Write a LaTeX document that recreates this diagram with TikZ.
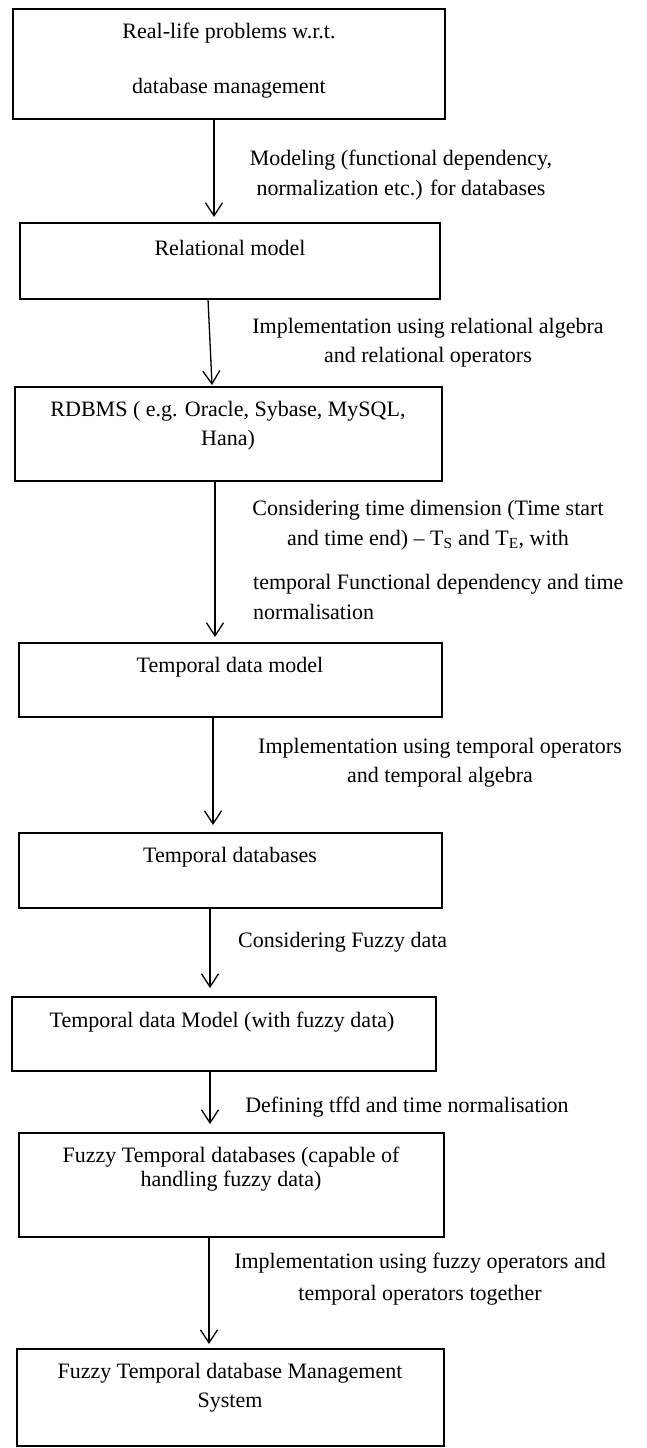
\documentclass[tikz,border=0pt]{standalone}
\usepackage{fontspec}
\setmainfont{Liberation Serif}
\usetikzlibrary{arrows.meta,calc}
\begin{document}
\begin{tikzpicture}[x=1pt,y=-1pt,
  box/.style={draw, line width=1.6pt, inner sep=0pt, outer sep=0pt, anchor=north west},
  txt/.style={inner sep=0pt, align=center, font=\fontsize{22}{29}\selectfont},
  arr/.style={line width=1.3pt, -{Straight Barb[length=13pt,width=17pt,line width=1.3pt]}}]
\useasboundingbox (0,0) rectangle (646,1448);
% boxes
\node[box, minimum width=432pt, minimum height=110pt] (b1) at (13,9) {};
\node[box, minimum width=420pt, minimum height=76pt]  (b2) at (20,223) {};
\node[box, minimum width=427pt, minimum height=94pt]  (b3) at (15,387) {};
\node[box, minimum width=423pt, minimum height=74pt]  (b4) at (19,643) {};
\node[box, minimum width=423pt, minimum height=75pt]  (b5) at (19,833) {};
\node[box, minimum width=424pt, minimum height=74pt]  (b6) at (12,997) {};
\node[box, minimum width=425pt, minimum height=104pt] (b7) at (19,1133) {};
\node[box, minimum width=427pt, minimum height=97pt]  (b8) at (17,1349) {};
% box texts
\node[txt] (t1) at (229,60.5) {Real-life problems w.r.t.\\[26pt]database management};
\node[txt] (t2) at (230,248) {Relational model};
\node[txt] (t3) at (228,425.5) {RDBMS ( e.g. Oracle, Sybase, MySQL,\\Hana)};
\node[txt] (t4) at (230,667) {Temporal data model};
\node[txt] (t5) at (230,857) {Temporal databases};
\node[txt] (t6) at (222,1022) {Temporal data Model (with fuzzy data)};
\node[txt] (t7) at (231,1169) {Fuzzy Temporal databases (capable of\\[-5pt]handling fuzzy data)};
\node[txt] (t8) at (230,1387.5) {Fuzzy Temporal database Management\\System};
% connectors
\draw[arr] ([xshift=-15pt]b1.south) -- ([xshift=-16pt,yshift=6pt]b2.north);
\draw[arr] ([xshift=-22pt]b2.south) -- ([xshift=-16.5pt,yshift=2pt]b3.north);
\draw[arr] ([xshift=-13.5pt]b3.south) -- ([xshift=-15.5pt,yshift=6pt]b4.north);
\draw[arr] ([xshift=-17.5pt]b4.south) -- ([xshift=-17.5pt,yshift=8pt]b5.north);
\draw[arr] ([xshift=-20.5pt]b5.south) -- ([xshift=-14pt,yshift=9pt]b6.north);
\draw[arr] ([xshift=-14pt]b6.south) -- ([xshift=-21.5pt,yshift=9pt]b7.north);
\draw[arr] ([xshift=-22.5pt]b7.south) -- ([xshift=-21.5pt,yshift=5pt]b8.north);
% connector labels
\node[txt] (l1) at (401,175) {Modeling (functional dependency,\\[1pt]normalization etc.) for databases};
\node[txt] (l2) at (428,342.5) {Implementation using relational algebra\\and relational operators};
\node[txt] (l3a) at (428,525) {Considering time dimension (Time start\\[1pt]and time end) -- T\textsubscript{S} and T\textsubscript{E}, with};
\node[txt, align=left, anchor=west] (l3b) at (253,597) {temporal Functional dependency and time\\[1pt]normalisation};
\node[txt] (l4) at (440,762.5) {Implementation using temporal operators\\and temporal algebra};
\node[txt, anchor=west] (l5) at (238,942) {Considering Fuzzy data};
\node[txt] (l6) at (407,1107) {Defining tffd and time normalisation};
\node[txt] (l7) at (420,1279) {Implementation using fuzzy operators and\\[3pt]temporal operators together};
\end{tikzpicture}
\end{document}
